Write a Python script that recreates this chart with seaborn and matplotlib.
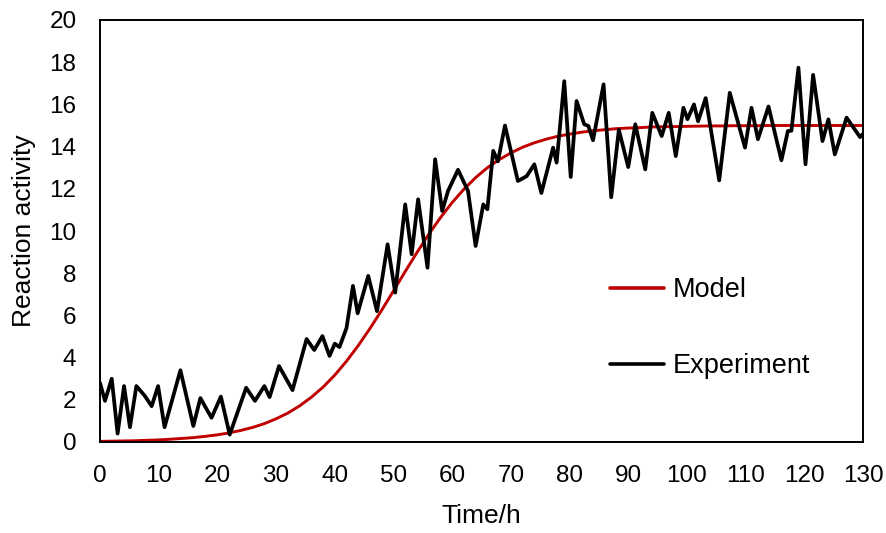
import matplotlib
matplotlib.use("Agg")
import matplotlib.pyplot as plt
import seaborn as sns
import pandas as pd

# Model curve values (every 2 h)
model_time = list(range(0, 132, 2))
model_value = [0.03, 0.04, 0.05, 0.06, 0.08, 0.10, 0.13, 0.17, 0.21, 0.27,
               0.34, 0.43, 0.55, 0.69, 0.87, 1.10, 1.37, 1.71, 2.12, 2.60,
               3.17, 3.83, 4.57, 5.38, 6.25, 7.16, 8.08, 8.98, 9.84, 10.63,
               11.35, 11.98, 12.53, 13.00, 13.38, 13.70, 13.97, 14.18, 14.35, 14.49,
               14.59, 14.68, 14.75, 14.80, 14.85, 14.88, 14.90, 14.93, 14.94, 14.95,
               14.96, 14.97, 14.98, 14.98, 14.99, 14.99, 14.99, 15.00, 15.00, 15.00,
               15.00, 15.00, 15.00, 15.00, 15.00, 15.00]

# Experiment values
exp_time = [0, 0.85, 2.0, 3.0, 4.1, 5.1, 6.2, 7.6, 8.8, 9.9,
            11.0, 13.7, 15.9, 17.1, 19.0, 20.6, 22.1, 24.9, 26.4, 28.0,
            28.9, 30.5, 32.8, 35.2, 36.5, 37.9, 39.1, 40.0, 40.8, 42.0,
            43.1, 43.9, 45.7, 47.2, 49.0, 50.3, 52.0, 53.1, 54.2, 55.8,
            57.1, 58.3, 59.3, 61.0, 62.7, 64.0, 65.3, 66.0, 67.0, 67.8,
            69.0, 71.2, 72.7, 74.0, 75.2, 77.2, 77.8, 79.1, 80.2, 81.2,
            82.5, 83.2, 84.0, 85.8, 87.1, 88.4, 90.0, 91.2, 92.9, 94.1,
            95.7, 96.9, 98.1, 99.4, 100.1, 101.2, 101.9, 103.2, 105.5, 107.3,
            109.9, 111.0, 112.1, 113.9, 116.1, 117.2, 117.8, 119.0, 120.2, 121.5,
            123.1, 124.1, 125.2, 127.2, 129.5, 130]
exp_value = [2.8, 1.95, 3.0, 0.4, 2.65, 0.7, 2.65, 2.2, 1.7, 2.65,
             0.7, 3.4, 0.76, 2.08, 1.15, 2.15, 0.35, 2.57, 1.95, 2.65,
             2.13, 3.6, 2.46, 4.88, 4.36, 5.02, 4.08, 4.66, 4.5, 5.4,
             7.4, 6.1, 7.87, 6.2, 9.37, 7.08, 11.26, 8.9, 11.5, 8.26,
             13.4, 10.95, 11.9, 12.9, 11.9, 9.29, 11.26, 11.03, 13.8, 13.3,
             15.0, 12.37, 12.6, 13.16, 11.8, 13.95, 13.24, 17.1, 12.56, 16.16,
             15.06, 14.98, 14.3, 16.95, 11.6, 14.8, 13.03, 15.06, 12.92, 15.6,
             14.5, 15.6, 13.55, 15.84, 15.3, 16.0, 15.2, 16.3, 12.4, 16.55,
             13.95, 15.84, 14.35, 15.9, 13.35, 14.74, 14.75, 17.74, 13.16, 17.4,
             14.26, 15.29, 13.63, 15.37, 14.45, 14.6]

x_ticks = list(range(0, 131, 10))
y_ticks = list(range(0, 21, 2))

sns.set_style("white")
plt.rcParams['font.family'] = ['Liberation Sans', 'DejaVu Sans']
plt.rcParams['text.color'] = 'black'
plt.rcParams['axes.labelcolor'] = 'black'

fig = plt.figure(figsize=(8.87, 5.33), dpi=100)
ax = fig.add_axes([100/887, 1-442/533, 763/887, 422/533])

model_df = pd.DataFrame({"t": model_time, "v": model_value})
exp_df = pd.DataFrame({"t": exp_time, "v": exp_value})

sns.lineplot(data=model_df, x="t", y="v", ax=ax, color="#C00000", linewidth=2.1,
             estimator=None, sort=False, label="Model")
sns.lineplot(data=exp_df, x="t", y="v", ax=ax, color="black", linewidth=2.7,
             estimator=None, sort=False, label="Experiment")
for ln in ax.get_lines():
    ln.set_solid_joinstyle("round")
    ln.set_solid_capstyle("round")

ax.set_xlim(0, 130)
ax.set_ylim(0, 20)
ax.set_xticks(x_ticks)
ax.set_yticks(y_ticks)
ax.tick_params(axis="both", length=0, labelsize=17.5, colors="black")
ax.tick_params(axis="y", pad=17)
ax.tick_params(axis="x", pad=16.5)
ax.set_xlabel("Time/h", fontsize=19, color="black")
ax.set_ylabel("Reaction activity", fontsize=19, color="black")
ax.xaxis.set_label_coords(0.5, (442-504)/422)
ax.yaxis.set_label_coords((36-100)/763, 0.5)
ax.grid(False)
for s in ax.spines.values():
    s.set_visible(True)
    s.set_color("black")
    s.set_linewidth(1.4)

leg = ax.legend(loc="upper left", bbox_to_anchor=(610/887, 1-277/533),
                bbox_transform=fig.transFigure, frameon=False, fontsize=19.5,
                handlelength=2.0, handletextpad=0.3, labelspacing=1.85,
                borderpad=0, borderaxespad=0)
for t in leg.get_texts():
    t.set_color("black")
for h in leg.get_lines():
    h.set_linewidth(2.6)

fig.savefig("out.png", dpi=100)
